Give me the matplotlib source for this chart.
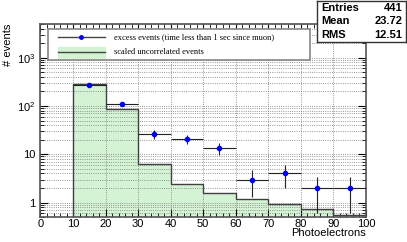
import matplotlib
matplotlib.use("Agg")
import matplotlib.pyplot as plt
import numpy as np
from matplotlib.ticker import MultipleLocator, LogLocator, NullFormatter, FuncFormatter
from matplotlib.patches import Rectangle

plt.rcParams["font.family"] = ["Liberation Sans", "DejaVu Sans"]
plt.rcParams["mathtext.fontset"] = "custom"
plt.rcParams["mathtext.rm"] = "Liberation Sans"

# bin edges and contents
bin_edges = [10, 20, 30, 40, 50, 60, 70, 80, 90, 100]
uncorr = [290, 88, 6.3, 2.45, 1.6, 1.2, 0.94, 0.73, 0.56]
centers = [15, 25, 35, 45, 55, 65, 75, 85, 95]
excess = [270, 108, 26, 21, 13.4, 3.0, 4.0, 2.0, 2.0]
excess_err = [16, 10, 5.1, 4.6, 3.7, 1.7, 2.0, 1.4, 1.4]
x_halfwidth = [5] * 9

fig = plt.figure(figsize=(4.07, 2.42), dpi=100)
ax = fig.add_axes([0.0995, 0.103, 0.7995, 0.798])

ax.set_yscale("log")
ax.set_xlim(0, 100)
ax.set_ylim(0.5, 5000)

# green filled histogram
ax.stairs(uncorr, bin_edges, fill=True, color="#d4f2d4", zorder=1, baseline=0.01)
ax.stairs(uncorr, bin_edges, color="#404040", lw=1.0, zorder=2, baseline=0.01)

# data points
ax.errorbar(centers, excess, xerr=x_halfwidth, yerr=excess_err, fmt="o", ms=3,
            mfc="blue", mec="blue", ecolor="#222222", elinewidth=0.8, capsize=0, zorder=3)

# grid
ax.xaxis.set_major_locator(MultipleLocator(10))
ax.xaxis.set_minor_locator(MultipleLocator(2))
ax.yaxis.set_major_locator(LogLocator(base=10, numticks=10))
ax.yaxis.set_minor_locator(LogLocator(base=10, subs=np.arange(2, 10), numticks=20))
ax.yaxis.set_minor_formatter(NullFormatter())


def yfmt(v, pos):
    if abs(v - 1) < 1e-9:
        return "1"
    if abs(v - 10) < 1e-9:
        return "10"
    e = int(round(np.log10(v)))
    return r"$10^{%d}$" % e


ax.yaxis.set_major_formatter(FuncFormatter(yfmt))
ax.grid(True, which="major", axis="x", ls=":", color="#777777", lw=0.6)
ax.grid(True, which="both", axis="y", ls=":", color="#777777", lw=0.6)

ax.tick_params(which="both", direction="in", top=True, right=True, labelsize=8)
ax.tick_params(which="major", length=6)
ax.tick_params(which="minor", length=3)
ax.tick_params(axis="x", pad=1.5)
for s in ax.spines.values():
    s.set_color("#555555")
    s.set_linewidth(1.2)

fig.text(366 / 407, 1 - 233 / 242, "Photoelectrons", fontsize=8, ha="right", va="center")
ax.set_ylabel("# events", fontsize=8, ha="right", y=1.0, labelpad=3)

# legend box
leg_ax = fig.add_axes([48 / 407, 1 - 60 / 242, 262 / 407, 31 / 242])
leg_ax.set_xlim(0, 1)
leg_ax.set_ylim(0, 1)
leg_ax.set_xticks([])
leg_ax.set_yticks([])
for s in leg_ax.spines.values():
    s.set_color("#888888")
    s.set_linewidth(1.2)
leg_ax.plot([0.038, 0.218], [0.74, 0.74], color="#444444", lw=1)
leg_ax.plot([0.126], [0.74], "o", ms=2.5, color="blue")
leg_ax.add_patch(Rectangle((0.038, 0.065), 0.18, 0.355, color="#d4f2d4"))
leg_ax.plot([0.038, 0.218], [0.25, 0.25], color="#444444", lw=1)
leg_ax.text(0.252, 0.74, "excess events (time less than 1 sec since muon)",
            family="Liberation Serif", fontsize=6, va="center")
leg_ax.text(0.252, 0.25, "scaled uncorrelated events",
            family="Liberation Serif", fontsize=6, va="center")

# stats box
st = fig.add_axes([317 / 407, 1 - 42 / 242, 89 / 407, 41 / 242])
st.set_xticks([])
st.set_yticks([])
for s in st.spines.values():
    s.set_color("#333333")
    s.set_linewidth(1.0)
rows = [("Entries", "441"), ("Mean", "23.72"), ("RMS", "12.51")]
for i, (k, v) in enumerate(rows):
    y = 0.83 - i * 0.33
    st.text(0.05, y, k, fontsize=8, fontweight="bold", va="center")
    st.text(0.96, y, v, fontsize=8, fontweight="bold", va="center", ha="right")

fig.savefig("out.png", dpi=100)
